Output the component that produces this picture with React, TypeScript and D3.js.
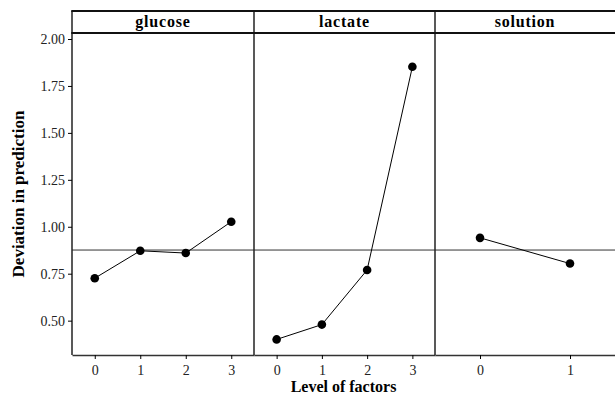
import React, { useEffect, useRef } from 'react'
import * as d3 from 'd3'

// factor panels
const factors = ['glucose', 'lactate', 'solution']
const glucoseLevels = ['0', '1', '2', '3']
const glucoseValues = [0.726, 0.872, 0.86, 1.027]
const lactateLevels = ['0', '1', '2', '3']
const lactateValues = [0.4, 0.479, 0.77, 1.852]
const solutionLevels = ['0', '1']
const solutionValues = [0.941, 0.804]
const meanLine = 0.876
const yTicks = [0.5, 0.75, 1.0, 1.25, 1.5, 1.75, 2.0]

const W = 615
const H = 397
const margin = { left: 72, right: 0, top: 11, bottom: 42 }
const stripH = 22

const App = () => {
  const svgRef = useRef<SVGSVGElement>(null)

  useEffect(() => {
    const svg = d3.select(svgRef.current)
    svg.selectAll('*').remove()

    const font = '"Liberation Serif", "Times New Roman", serif'
    const plotTop = margin.top + stripH
    const plotBottom = H - margin.bottom
    const x0 = margin.left
    const x1 = W - margin.right

    const yScale = d3.scaleLinear().domain([0.317, 2.032]).range([plotBottom, plotTop])

    // panel boundaries
    const bounds = [x0, 254, 435, x1]
    const panels = [
      { name: factors[0], levels: glucoseLevels, values: glucoseValues },
      { name: factors[1], levels: lactateLevels, values: lactateValues },
      { name: factors[2], levels: solutionLevels, values: solutionValues },
    ]

    const g = svg.append('g')

    // mean reference line
    g.append('line')
      .attr('x1', x0).attr('x2', x1)
      .attr('y1', yScale(meanLine)).attr('y2', yScale(meanLine))
      .attr('stroke', '#333').attr('stroke-width', 1)

    panels.forEach((p, i) => {
      const left = bounds[i]
      const right = bounds[i + 1]
      const xScale = d3.scalePoint<string>()
        .domain(p.levels)
        .range([left, right])
        .padding(0.5)

      // x axis
      const xAxis = d3.axisBottom(xScale).tickSize(4).tickSizeOuter(0)
      const ax = g.append('g')
        .attr('transform', `translate(0,${plotBottom})`)
        .call(xAxis)
      ax.select('.domain').attr('stroke', '#333').attr('stroke-width', 1.5)
      ax.selectAll('.tick line').attr('stroke', '#000')
      ax.selectAll('.tick text')
        .attr('font-family', font).attr('font-size', 14).attr('fill', '#222')
        .attr('y', 10)

      // strip label
      g.append('text')
        .attr('x', (left + right) / 2)
        .attr('y', margin.top + 16)
        .attr('text-anchor', 'middle')
        .attr('font-family', font)
        .attr('font-weight', 'bold')
        .attr('font-size', 16)
        .attr('letter-spacing', 0.8)
        .text(p.name)

      const pts = p.values.map((v, j) => [xScale(p.levels[j]) as number, yScale(v)] as [number, number])
      g.append('path')
        .attr('d', d3.line()(pts))
        .attr('fill', 'none')
        .attr('stroke', '#000')
        .attr('stroke-width', 1)
      g.selectAll(null)
        .data(pts)
        .join('circle')
        .attr('cx', d => d[0])
        .attr('cy', d => d[1])
        .attr('r', 4.3)
        .attr('fill', '#000')
    })

    // panel dividers and left border
    bounds.slice(0, 3).forEach(bx => {
      g.append('line')
        .attr('x1', bx).attr('x2', bx)
        .attr('y1', margin.top).attr('y2', plotBottom)
        .attr('stroke', '#222').attr('stroke-width', 1.5)
    })

    // strip lines
    ;[margin.top, plotTop].forEach(yy => {
      g.append('line')
        .attr('x1', x0 - 0.75).attr('x2', x1)
        .attr('y1', yy).attr('y2', yy)
        .attr('stroke', '#111').attr('stroke-width', 2)
    })

    // y axis
    const yAxis = d3.axisLeft(yScale)
      .tickValues(yTicks)
      .tickFormat(d3.format('.2f'))
      .tickSize(4)
      .tickSizeOuter(0)
    const ay = g.append('g')
      .attr('transform', `translate(${x0},0)`)
      .call(yAxis)
    ay.select('.domain').remove()
    ay.selectAll('.tick line').attr('stroke', '#000')
    ay.selectAll('.tick text')
      .attr('font-family', font).attr('font-size', 14).attr('fill', '#222')
      .attr('x', -7)

    // axis titles
    g.append('text')
      .attr('x', (x0 + x1) / 2)
      .attr('y', H - 5)
      .attr('text-anchor', 'middle')
      .attr('font-family', font)
      .attr('font-weight', 'bold')
      .attr('font-size', 16)
      .text('Level of factors')

    g.append('text')
      .attr('transform', `translate(24,${(plotTop + plotBottom) / 2}) rotate(-90)`)
      .attr('text-anchor', 'middle')
      .attr('font-family', font)
      .attr('font-weight', 'bold')
      .attr('font-size', 17)
      .text('Deviation in prediction')
  }, [])

  return (
    <svg
      ref={svgRef}
      width={W}
      height={H}
      style={{ position: 'absolute', left: 0, top: 0, background: '#fff' }}
    />
  )
}

export default App
